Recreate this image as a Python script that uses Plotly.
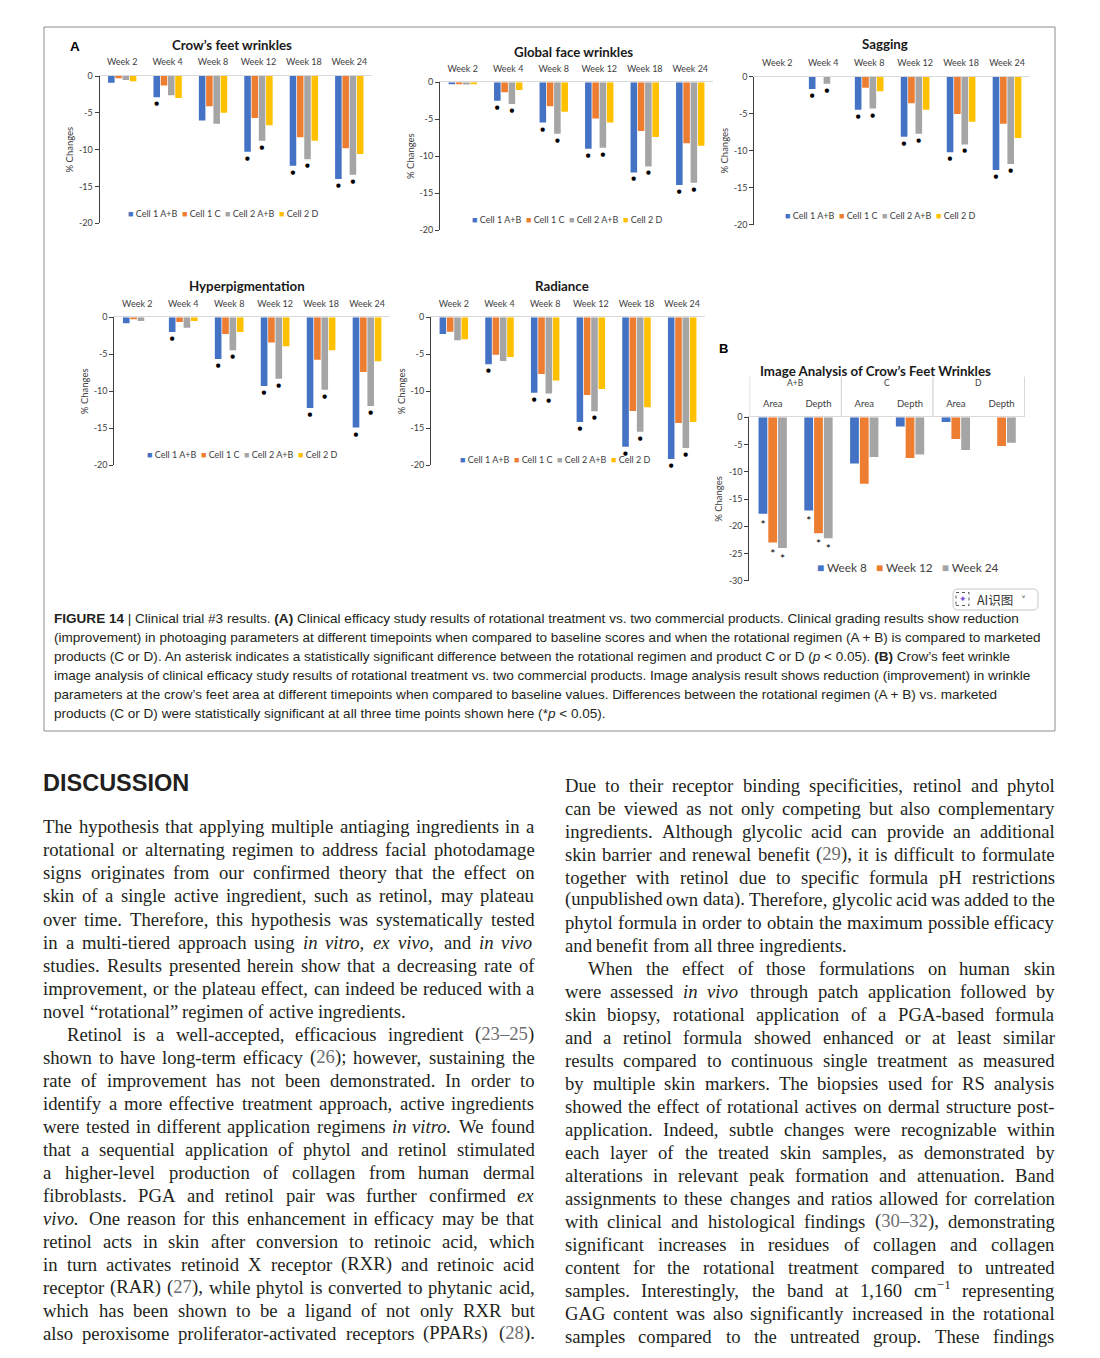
import re
import string
import plotly.graph_objects as go

W, H = 1100, 1358

# ---------------- data ----------------
weeks = ["Week 2", "Week 4", "Week 8", "Week 12", "Week 18", "Week 24"]
series_names = ["Cell 1 A+B", "Cell 1 C", "Cell 2 A+B", "Cell 2 D"]
series_colors = ["#4472C4", "#ED7D31", "#A5A5A5", "#FFC000"]

crows_feet = [
    [-0.9, -2.9, -6.05, -10.3, -12.2, -14.0],
    [-0.3, -1.3, -4.1, -5.7, -8.3, -9.8],
    [-0.55, -2.6, -6.5, -8.8, -11.3, -13.4],
    [-0.7, -3.0, -5.0, -6.7, -8.8, -10.6],
]
crows_feet_sig = [[0, 1, 0, 1, 1, 1], [0, 0, 0, 1, 1, 1]]

global_face = [
    [-0.2, -2.5, -5.45, -9.0, -12.2, -13.9],
    [-0.2, -1.35, -3.25, -4.9, -6.6, -8.25],
    [-0.3, -2.95, -6.95, -8.85, -11.4, -13.6],
    [-0.2, -1.05, -4.0, -5.45, -7.4, -8.6],
]
global_face_sig = [[0, 1, 1, 1, 1, 1], [0, 1, 1, 1, 1, 1]]

sagging = [
    [0, -1.65, -4.45, -8.1, -10.2, -12.6],
    [0, 0, -1.5, -3.6, -5.05, -6.35],
    [0, -0.95, -4.3, -7.7, -9.15, -11.8],
    [0, 0, -1.95, -4.45, -6.1, -8.3],
]
sagging_sig = [[0, 1, 1, 1, 1, 1], [0, 1, 1, 1, 1, 1]]

hyperpigmentation = [
    [-0.8, -2.0, -5.65, -9.3, -12.25, -14.9],
    [-0.2, -0.65, -2.25, -3.4, -5.75, -7.4],
    [-0.5, -1.4, -4.45, -8.3, -9.8, -12.0],
    [0, -0.5, -2.0, -3.9, -4.45, -5.95],
]
hyperpigmentation_sig = [[0, 1, 1, 1, 1, 1], [0, 0, 1, 1, 1, 1]]

radiance = [
    [-2.25, -6.35, -10.2, -14.15, -17.5, -19.15],
    [-1.95, -5.05, -7.65, -10.5, -12.65, -14.3],
    [-3.1, -5.9, -10.3, -12.7, -15.45, -17.65],
    [-2.95, -5.35, -8.55, -9.7, -12.15, -14.15],
]
radiance_sig = [[0, 1, 1, 1, 1, 1], [0, 0, 1, 1, 1, 1]]

panel_a_tickvals = [0, -5, -10, -15, -20]
panel_a_ticktext = ["0", "-5", "-10", "-15", "-20"]

b_groups = ["A+B", "A+B", "C", "C", "D", "D"]
b_params = ["Area", "Depth", "Area", "Depth", "Area", "Depth"]
b_names = ["Week 8", "Week 12", "Week 24"]
b_colors = ["#4472C4", "#ED7D31", "#A5A5A5"]
b_week8 = [-17.7, -17.1, -8.5, -1.7, -0.85, 0]
b_week12 = [-23.0, -21.3, -12.2, -7.45, -4.0, -5.25]
b_week24 = [-24.0, -22.2, -7.3, -6.85, -6.0, -4.65]
b_sig = [1, 1, 0, 0, 0, 0]
panel_b_tickvals = [0, -5, -10, -15, -20, -25, -30]
panel_b_ticktext = ["0", "-5", "-10", "-15", "-20", "-25", "-30"]

caption_lines = [
    "<b>FIGURE 14</b> | Clinical trial #3 results. <b>(A)</b> Clinical efficacy study results of rotational treatment vs. two commercial products. Clinical grading results show reduction",
    "(improvement) in photoaging parameters at different timepoints when compared to baseline scores and when the rotational regimen (A + B) is compared to marketed",
    "products (C or D). An asterisk indicates a statistically significant difference between the rotational regimen and product C or D (<i>p</i> &lt; 0.05). <b>(B)</b> Crow’s feet wrinkle",
    "image analysis of clinical efficacy study results of rotational treatment vs. two commercial products. Image analysis result shows reduction (improvement) in wrinkle",
    "parameters at the crow’s feet area at different timepoints when compared to baseline values. Differences between the rotational regimen (A + B) vs. marketed",
    "products (C or D) were statistically significant at all three time points shown here (*<i>p</i> &lt; 0.05).",
]

left_lines = [
    "The hypothesis that applying multiple antiaging ingredients in a",
    "rotational or alternating regimen to address facial photodamage",
    "signs originates from our confirmed theory that the effect on",
    "skin of a single active ingredient, such as retinol, may plateau",
    "over time. Therefore, this hypothesis was systematically tested",
    "in a multi-tiered approach using ~in ~vitro, ~ex ~vivo, and ~in ~vivo",
    "studies. Results presented herein show that a decreasing rate of",
    "improvement, or the plateau effect, can indeed be reduced with a",
    "novel “rotational” regimen of active ingredients.",
    "Retinol is a well-accepted, efficacious ingredient (23–25)",
    "shown to have long-term efficacy (26); however, sustaining the",
    "rate of improvement has not been demonstrated. In order to",
    "identify a more effective treatment approach, active ingredients",
    "were tested in different application regimens ~in ~vitro. We found",
    "that a sequential application of phytol and retinol stimulated",
    "a higher-level production of collagen from human dermal",
    "fibroblasts. PGA and retinol pair was further confirmed ~ex",
    "~vivo. One reason for this enhancement in efficacy may be that",
    "retinol acts in skin after conversion to retinoic acid, which",
    "in turn activates retinoid X receptor (RXR) and retinoic acid",
    "receptor (RAR) (27), while phytol is converted to phytanic acid,",
    "which has been shown to be a ligand of not only RXR but",
    "also peroxisome proliferator-activated receptors (PPARs) (28).",
]
left_para_ends = [8]
left_indents = [9]

right_lines = [
    "Due to their receptor binding specificities, retinol and phytol",
    "can be viewed as not only competing but also complementary",
    "ingredients. Although glycolic acid can provide an additional",
    "skin barrier and renewal benefit (29), it is difficult to formulate",
    "together with retinol due to specific formula pH restrictions",
    "(unpublished own data). Therefore, glycolic acid was added to the",
    "phytol formula in order to obtain the maximum possible efficacy",
    "and benefit from all three ingredients.",
    "When the effect of those formulations on human skin",
    "were assessed ~in ~vivo through patch application followed by",
    "skin biopsy, rotational application of a PGA-based formula",
    "and a retinol formula showed enhanced or at least similar",
    "results compared to continuous single treatment as measured",
    "by multiple skin markers. The biopsies used for RS analysis",
    "showed the effect of rotational actives on dermal structure post-",
    "application. Indeed, subtle changes were recognizable within",
    "each layer of the treated skin samples, as demonstrated by",
    "alterations in relevant peak formation and attenuation. Band",
    "assignments to these changes and ratios allowed for correlation",
    "with clinical and histological findings (30–32), demonstrating",
    "significant increases in residues of collagen and collagen",
    "content for the rotational treatment compared to untreated",
    "samples. Interestingly, the band at 1,160 cm^−1 representing",
    "GAG content was also significantly increased in the rotational",
    "samples compared to the untreated group. These findings",
]
right_para_ends = [7]
right_indents = [8]

# ---------------- helpers ----------------
CHART_FONT = "Lato, 'Open Sans', sans-serif"
SERIF = "'Liberation Serif', 'Times New Roman', serif"
SANS = "'Liberation Sans', Arial, sans-serif"

TIMES = {' ': 250, '(': 333, ')': 333, ',': 250, '.': 250, '-': 333, '–': 500,
         '“': 444, '”': 444, ';': 278, ':': 278, '’': 333, '−': 564, '+': 564}
for ch, w in zip(string.ascii_uppercase,
                 [722, 667, 667, 722, 611, 556, 722, 722, 333, 389, 722, 611, 889,
                  722, 722, 556, 722, 667, 556, 611, 722, 722, 944, 722, 722, 611]):
    TIMES[ch] = w
for ch, w in zip(string.ascii_lowercase,
                 [444, 500, 444, 500, 444, 333, 500, 500, 278, 278, 500, 278, 778,
                  500, 500, 500, 500, 333, 389, 278, 500, 500, 722, 500, 500, 444]):
    TIMES[ch] = w
for d in string.digits:
    TIMES[d] = 500

ARIAL = {' ': 278, '(': 333, ')': 333, ',': 278, '.': 278, '-': 333, '+': 584,
         '#': 556, '|': 260, '<': 584, '*': 389, '’': 222}
for ch, w in zip(string.ascii_uppercase,
                 [667, 667, 722, 722, 667, 611, 778, 722, 278, 500, 667, 556, 833,
                  722, 778, 667, 778, 722, 667, 611, 722, 667, 944, 667, 667, 611]):
    ARIAL[ch] = w
for ch, w in zip(string.ascii_lowercase,
                 [556, 556, 500, 556, 556, 278, 556, 556, 222, 222, 500, 222, 833,
                  556, 556, 556, 556, 333, 500, 278, 556, 500, 722, 500, 500, 500]):
    ARIAL[ch] = w
for d in string.digits:
    ARIAL[d] = 556


def units(s, table):
    return sum(table.get(c, 500) for c in s) / 1000.0


def px(x):
    return x / W


def py(y):
    return 1 - y / H


annotations = []
shapes = []


def word_markup(w):
    italic = w.startswith('~')
    if italic:
        w = w[1:]
    if '^' in w:
        base, sup = w.split('^')
        return base + "<sup>" + sup + "</sup>", units(base, TIMES) + 0.7 * units(sup, TIMES)
    width = units(w, TIMES)
    m = w
    if w.startswith('(') and re.search(r'\d', w):
        m = re.sub(r'(\d+(?:–\d+)?)', r"<span style='color:#6d6e71'>\1</span>", w)
    if italic:
        m = "<i>" + m + "</i>"
    return m, width


def add_column(lines, ends, indents, x0, x1, base0, step, size, indent):
    for k, line in enumerate(lines):
        words = line.split(' ')
        info = [word_markup(w) for w in words]
        left = x0 + (indent if k in indents else 0)
        total = sum(wd for _, wd in info) * size
        if k in ends or len(words) == 1:
            gap = 0.25 * size
        else:
            gap = max((x1 - left - total) / (len(words) - 1), 0.1 * size)
        x = left
        ybottom = base0 + k * step + 0.216 * size
        for m, wd in info:
            annotations.append(dict(x=px(x), y=py(ybottom), xref='paper', yref='paper',
                                    xanchor='left', yanchor='bottom', text=m, showarrow=False,
                                    borderpad=0, borderwidth=0,
                                    font=dict(family=SERIF, size=size, color='#231f20')))
            x += wd * size + gap


# ---------------- figure ----------------
fig = go.Figure()
axes = {}

panel_specs = [
    ("Crow’s feet wrinkles", crows_feet, crows_feet_sig, (99.5, 372), (76, 223.3), (232, 45), (223, 213.3)),
    ("Global face wrinkles", global_face, global_face_sig, (440, 713), (82.3, 230), (573, 51.7), (567, 220)),
    ("Sagging", sagging, sagging_sig, (754.3, 1030), (76.7, 224.7), (885, 44.3), (880, 215)),
    ("Hyperpigmentation", hyperpigmentation, hyperpigmentation_sig, (114.3, 390), (317.3, 465.3), (246.7, 285.7), (241.7, 455)),
    ("Radiance", radiance, radiance_sig, (431, 705), (317.3, 465.3), (561.7, 285.7), (555, 459.5)),
]

legend_a = "\u00a0\u00a0".join(
    f"<span style='color:{c}'>■</span>\u00a0{n}" for c, n in zip(series_colors, series_names))

for i, (title, vals, sig, xd, yd, txy, lxy) in enumerate(panel_specs, start=1):
    xa = 'x' if i == 1 else f'x{i}'
    ya = 'y' if i == 1 else f'y{i}'
    for s in range(4):
        texts = None
        if s == 0:
            texts = ["●" if f else "" for f in sig[0]]
        elif s == 2:
            texts = ["●" if f else "" for f in sig[1]]
        fig.add_trace(go.Bar(
            x=weeks, y=vals[s], name=series_names[s],
            marker=dict(color=series_colors[s], line=dict(width=0)),
            text=texts, textposition='outside', constraintext='none', cliponaxis=False,
            textfont=dict(size=5.5, color='#000000', family='DejaVu Sans'),
            xaxis=xa, yaxis=ya, showlegend=False, hoverinfo='skip'))
    axes['xaxis' if i == 1 else f'xaxis{i}'] = dict(
        domain=[px(xd[0]), px(xd[1])], anchor=ya, side='top', type='category',
        showline=True, linecolor='#d9d9d9', linewidth=1, ticks='', showgrid=False,
        zeroline=False, ticklabelstandoff=6, automargin=False,
        tickfont=dict(size=9, color='#404040', family=CHART_FONT), fixedrange=True)
    axes['yaxis' if i == 1 else f'yaxis{i}'] = dict(
        domain=[py(yd[1]), py(yd[0])], anchor=xa, range=[-20, 0],
        tickvals=panel_a_tickvals, ticktext=panel_a_ticktext,
        showline=True, linecolor='#404040', linewidth=1, ticks='outside', ticklen=4,
        tickcolor='#404040', showgrid=False, zeroline=False, automargin=False,
        tickfont=dict(size=9, color='#404040', family=CHART_FONT),
        title=dict(text='% Changes', font=dict(size=9.5, color='#404040', family=CHART_FONT), standoff=3),
        fixedrange=True)
    annotations.append(dict(x=px(txy[0]), y=py(txy[1]), xref='paper', yref='paper',
                            xanchor='center', yanchor='middle', showarrow=False,
                            text=f"<b>{title}</b>",
                            font=dict(size=13.3, color='#1a1a1a', family=CHART_FONT)))
    annotations.append(dict(x=px(lxy[0]), y=py(lxy[1]), xref='paper', yref='paper',
                            xanchor='center', yanchor='middle', showarrow=False,
                            text=legend_a, font=dict(size=9, color='#404040', family=CHART_FONT)))

# Panel B
b_categories = [f"{g} {p}" for g, p in zip(b_groups, b_params)]
for s, vals in enumerate([b_week8, b_week12, b_week24]):
    fig.add_trace(go.Bar(
        x=b_categories, y=vals, name=b_names[s],
        marker=dict(color=b_colors[s], line=dict(width=0)),
        text=["*" if f else "" for f in b_sig], textposition='outside', constraintext='none',
        cliponaxis=False, textfont=dict(size=12, color='#000000', family=CHART_FONT),
        xaxis='x6', yaxis='y6', showlegend=False, hoverinfo='skip'))
axes['xaxis6'] = dict(domain=[px(749.3), px(1025)], anchor='y6', side='top', type='category',
                      tickvals=b_categories, ticktext=b_params,
                      showline=True, linecolor='#d9d9d9', linewidth=1, ticks='', showgrid=False,
                      zeroline=False, ticklabelstandoff=6, automargin=False,
                      tickfont=dict(size=9.5, color='#404040', family=CHART_FONT), fixedrange=True)
axes['yaxis6'] = dict(domain=[py(580.7), py(417.3)], anchor='x6', range=[-30, 0],
                      tickvals=panel_b_tickvals, ticktext=panel_b_ticktext,
                      showline=True, linecolor='#404040', linewidth=1, ticks='outside', ticklen=4,
                      tickcolor='#404040', showgrid=False, zeroline=False, automargin=False,
                      tickfont=dict(size=9, color='#404040', family=CHART_FONT),
                      title=dict(text='% Changes', font=dict(size=9.5, color='#404040', family=CHART_FONT), standoff=4),
                      fixedrange=True)

# group labels and dividers of panel B (from the category structure)
group_order = []
for g in b_groups:
    if g not in group_order:
        group_order.append(g)
for g in group_order:
    idx = [k for k, gg in enumerate(b_groups) if gg == g]
    annotations.append(dict(x=(idx[0] + idx[-1]) / 2, y=py(383.3), xref='x6', yref='paper',
                            xanchor='center', yanchor='middle', showarrow=False, text=g,
                            font=dict(size=8.5, color='#404040', family=CHART_FONT)))
    for edge in (idx[0] - 0.5, idx[-1] + 0.5):
        shapes.append(dict(type='line', xref='x6', yref='paper', x0=edge, x1=edge,
                           y0=py(417.3), y1=py(376.7), line=dict(color='#d9d9d9', width=1)))

annotations.append(dict(x=px(875.7), y=py(370.7), xref='paper', yref='paper', xanchor='center',
                        yanchor='middle', showarrow=False,
                        text="<b>Image Analysis of Crow’s Feet Wrinkles</b>",
                        font=dict(size=13.3, color='#1a1a1a', family=CHART_FONT)))
legend_b = "\u00a0\u00a0\u00a0".join(
    f"<span style='color:{c}'>■</span>\u00a0{n}" for c, n in zip(b_colors, b_names))
annotations.append(dict(x=px(908), y=py(567.7), xref='paper', yref='paper', xanchor='center',
                        yanchor='middle', showarrow=False, text=legend_b,
                        font=dict(size=11.8, color='#404040', family=CHART_FONT)))

# panel letters
annotations.append(dict(x=px(75), y=py(47), xref='paper', yref='paper', xanchor='center',
                        yanchor='middle', showarrow=False, text="<b>A</b>",
                        font=dict(size=13.5, color='#000000', family=SANS)))
annotations.append(dict(x=px(723), y=py(349), xref='paper', yref='paper', xanchor='center',
                        yanchor='middle', showarrow=False, text="<b>B</b>",
                        font=dict(size=13, color='#000000', family=SANS)))

# figure frame
shapes.append(dict(type='rect', xref='paper', yref='paper', x0=px(44), x1=px(1055), y0=py(731), y1=py(27),
                   line=dict(color='#8c8c8c', width=1), fillcolor='rgba(0,0,0,0)', layer='below'))

# caption
cap_size = 989 / units(re.sub(r'<[^>]+>', '', caption_lines[1]), ARIAL)
for k, line in enumerate(caption_lines):
    base = 623.3 + 19.0 * k
    annotations.append(dict(x=px(54), y=py(base + 0.212 * cap_size), xref='paper', yref='paper',
                            xanchor='left', yanchor='bottom', showarrow=False, text=line,
                            borderpad=0, borderwidth=0,
                            font=dict(size=cap_size, color='#231f20', family=SANS)))

# AI button overlay
bx0, bx1, by0, by1, r = 953, 1038, 589, 610, 5
path = (f"M {px(bx0 + r)} {py(by0)} L {px(bx1 - r)} {py(by0)} Q {px(bx1)} {py(by0)} {px(bx1)} {py(by0 + r)} "
        f"L {px(bx1)} {py(by1 - r)} Q {px(bx1)} {py(by1)} {px(bx1 - r)} {py(by1)} "
        f"L {px(bx0 + r)} {py(by1)} Q {px(bx0)} {py(by1)} {px(bx0)} {py(by1 - r)} "
        f"L {px(bx0)} {py(by0 + r)} Q {px(bx0)} {py(by0)} {px(bx0 + r)} {py(by0)} Z")
shapes.append(dict(type='path', xref='paper', yref='paper', path=path,
                   line=dict(color='#c8c8c8', width=1), fillcolor='#ffffff'))
shapes.append(dict(type='rect', xref='paper', yref='paper', x0=px(956), x1=px(969), y0=py(605.5), y1=py(592.5),
                   line=dict(color='#555555', width=1, dash='dot'), fillcolor='rgba(0,0,0,0)'))
annotations.append(dict(x=px(962.5), y=py(599), xref='paper', yref='paper', xanchor='center', yanchor='middle',
                        showarrow=False, text="✦", font=dict(size=9, color='#7b4fd6', family='DejaVu Sans')))
annotations.append(dict(x=px(975), y=py(599.5), xref='paper', yref='paper', xanchor='left', yanchor='middle',
                        showarrow=False, text="AI识图",
                        font=dict(size=12.5, color='#333333', family="'Noto Sans CJK SC', sans-serif")))
annotations.append(dict(x=px(1023), y=py(600), xref='paper', yref='paper', xanchor='center', yanchor='middle',
                        showarrow=False, text="˅", font=dict(size=10, color='#555555', family='DejaVu Sans')))

# heading + body
annotations.append(dict(x=px(43.3), y=py(791 + 0.212 * 23.5), xref='paper', yref='paper', xanchor='left',
                        yanchor='bottom', showarrow=False, text="<b>DISCUSSION</b>", borderpad=0, borderwidth=0,
                        font=dict(size=23.5, color='#231f20', family=SANS)))
add_column(left_lines, left_para_ends, left_indents, 43.3, 534.5, 833.3, 23.05, 18.7, 23.4)
add_column(right_lines, right_para_ends, right_indents, 564.7, 1054.7, 791.7, 22.95, 18.7, 23.3)

fig.update_layout(
    width=W, height=H, margin=dict(l=0, r=0, t=0, b=0, pad=0, autoexpand=False),
    paper_bgcolor='#ffffff', plot_bgcolor='rgba(0,0,0,0)',
    barmode='group', bargap=0.36, bargroupgap=0.1,
    annotations=annotations, shapes=shapes, showlegend=False,
    **axes)

fig.write_html("out.html", include_plotlyjs=True, config={'displayModeBar': False},
               post_script="document.body.style.margin='0';document.body.style.overflow='hidden';")
